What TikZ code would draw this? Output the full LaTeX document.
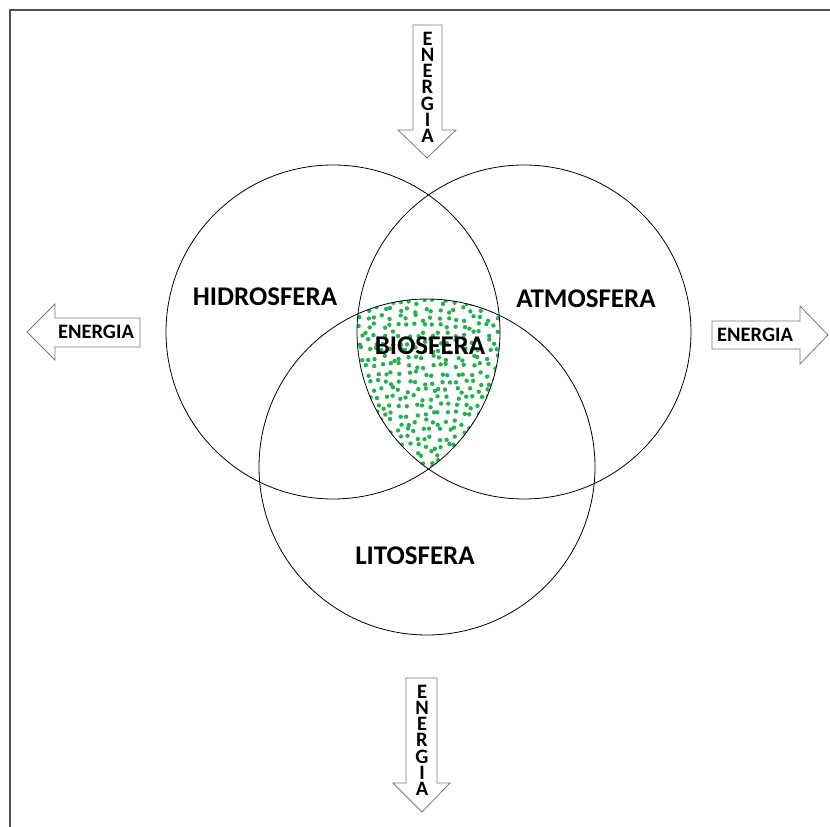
\documentclass[tikz,border=0pt]{standalone}
\usepackage{fontspec}
\setmainfont{Carlito}
\definecolor{dotgreen}{RGB}{40,176,80}
\definecolor{arrowgray}{RGB}{120,120,120}
\definecolor{framegray}{RGB}{80,80,80}
\begin{document}
\begin{tikzpicture}[x=1pt,y=1pt,
  sphere/.style={circle,draw=black,line width=0.8pt,minimum size=334pt,inner sep=0pt},
  biglabel/.style={font=\fontsize{27}{30}\selectfont\bfseries,inner sep=0pt},
  arrowshape/.style={draw=arrowgray,line width=0.8pt,fill=white,line join=miter},
  hlabel/.style={font=\fontsize{20.5}{22}\selectfont\bfseries,inner sep=0pt},
  vletter/.style={font=\fontsize{20.5}{22}\selectfont\bfseries,inner sep=0pt,text height=13.5pt,text depth=0pt}]
\useasboundingbox (0,0) rectangle (830,827);
% frame lines
\coordinate (f0) at (10,0);
\coordinate (f1) at (10,817);
\coordinate (f2) at (830,817);
\draw[framegray,line width=1.3pt] (f0) -- (f1) -- (f2);
% dots in the triple intersection
\begin{scope}
  \clip (333,495) circle (167);
  \clip (524,495) circle (167);
  \clip (427,360) circle (168);
  \pgfmathsetseed{12}
  \foreach \i in {0,...,19}{
    \foreach \j in {0,...,22}{
      \pgfmathsetmacro\dx{rand*3}
      \pgfmathsetmacro\dy{rand*3}
      \fill[dotgreen] (352+8*\i+\dx,357+8*\j+\dy) circle (2.2);
    }
  }
\end{scope}
% circles
\node[sphere] (hidro) at (333,495) {};
\node[sphere] (atmo) at (524,495) {};
\node[sphere,minimum size=336pt] (lito) at (427,360) {};
% labels
\node[biglabel] (lh) at (265,530) {HIDROSFERA};
\node[biglabel] (la) at (586,528) {ATMOSFERA};
\node[biglabel] (lb) at (430,481) {BIOSFERA};
\node[biglabel] (ll) at (415,271) {LITOSFERA};
% top arrow
\draw[arrowshape] (413,802) -- (442,802) -- (442,697) -- (456,697) -- (427,669) -- (398,697) -- (413,697) -- cycle;
\foreach \c [count=\k from 0] in {E,N,E,R,G,I,A}
  \node[vletter] (et\k) at (427.5,788.5-16.2*\k) {\c};
% bottom arrow
\draw[arrowshape] (406,149) -- (437,149) -- (437,44) -- (450,44) -- (422,15) -- (393,44) -- (406,44) -- cycle;
\foreach \c [count=\k from 0] in {E,N,E,R,G,I,A}
  \node[vletter] (eb\k) at (422,135.5-16.2*\k) {\c};
% left arrow
\draw[arrowshape] (140,509) -- (55,509) -- (55,523) -- (27,495) -- (55,467) -- (55,480) -- (140,480) -- cycle;
\node[hlabel] (el) at (96,495) {ENERGIA};
% right arrow
\draw[arrowshape] (712,506) -- (800,506) -- (800,521) -- (828,492) -- (800,463) -- (800,478) -- (712,478) -- cycle;
\node[hlabel] (er) at (755,492) {ENERGIA};
\end{tikzpicture}
\end{document}
